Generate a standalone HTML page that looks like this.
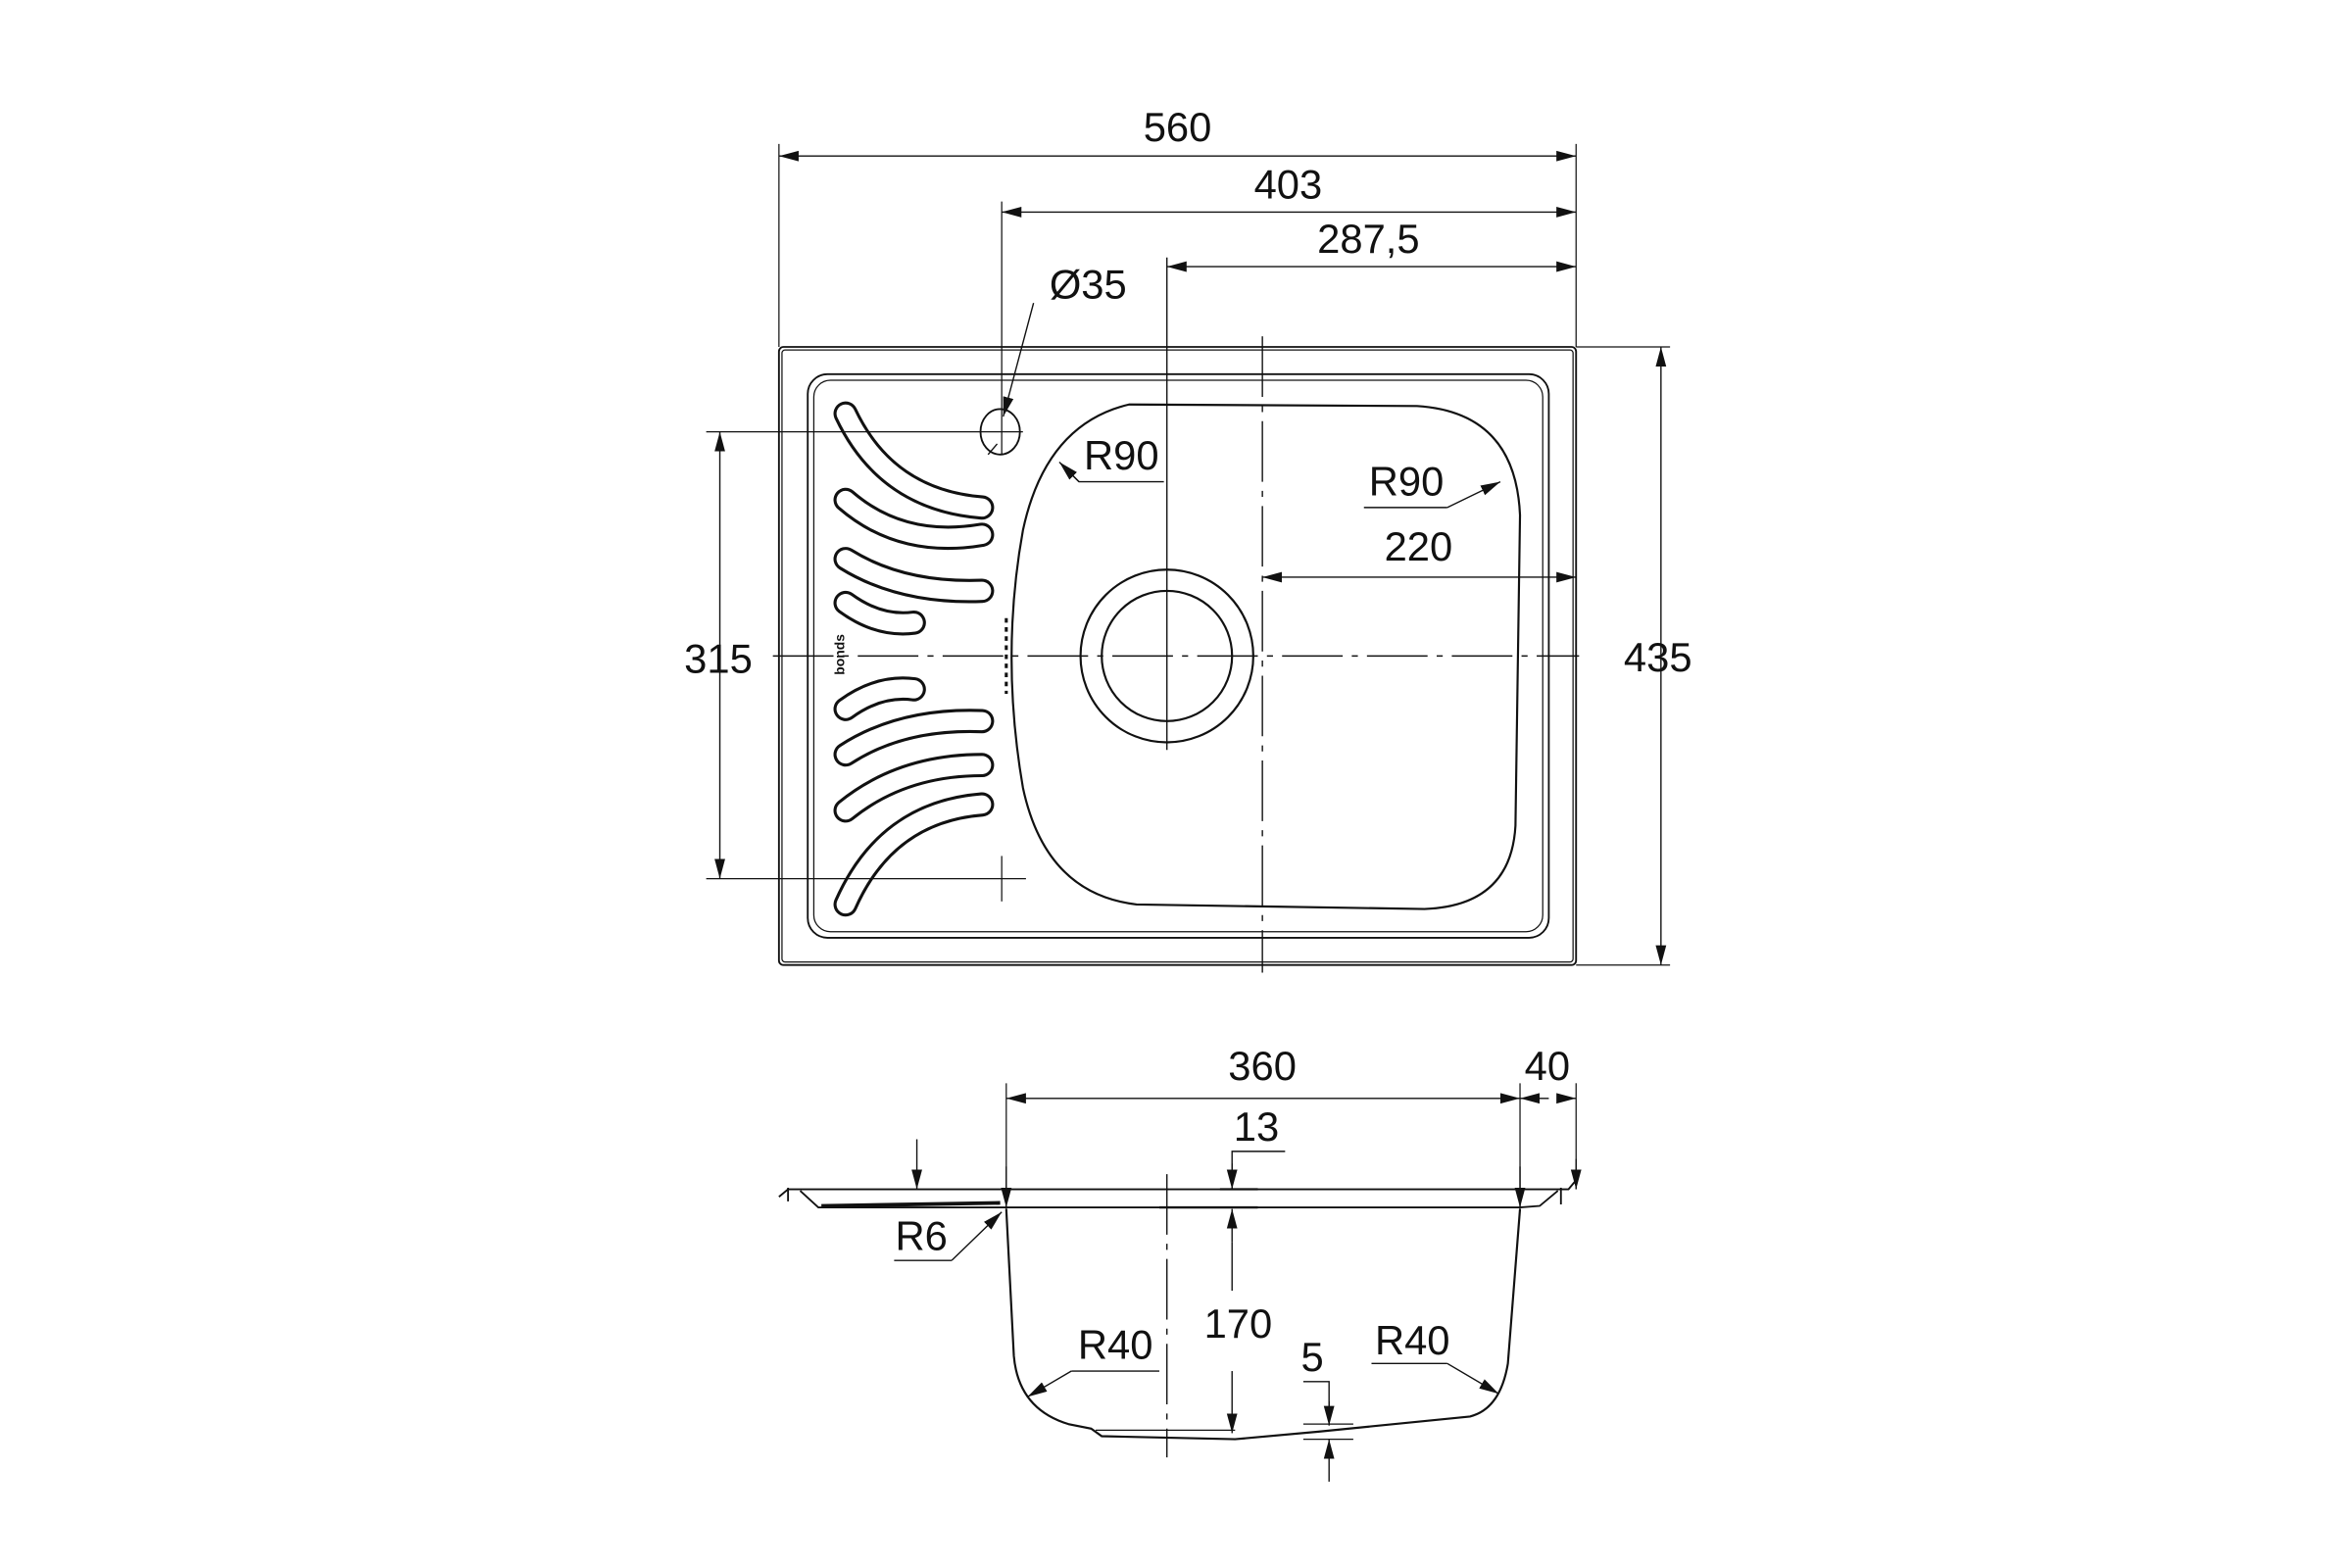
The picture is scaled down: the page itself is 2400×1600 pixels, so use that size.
<!DOCTYPE html>
<html><head><meta charset="utf-8"><style>
html,body{margin:0;padding:0;background:#fff;}
svg{display:block;}
text{font-family:"Liberation Sans",sans-serif;font-size:27px;fill:#111;text-anchor:middle;}
</style></head><body>
<svg width="2400" height="1600" viewBox="0 0 1552 1035" preserveAspectRatio="none" xmlns="http://www.w3.org/2000/svg">
<defs>
<marker id="a" markerUnits="userSpaceOnUse" markerWidth="14" markerHeight="8" refX="13" refY="4" orient="auto-start-reverse"><path d="M0,0.5 L13,4 L0,7.5 Z" fill="#111"/></marker>
</defs>
<g fill="none" stroke="#111" stroke-width="1.2">
<!-- top view -->
<rect x="514" y="229" width="526" height="408" rx="3"/>
<rect x="516" y="231" width="522" height="404" rx="2" stroke-width="0.8"/>
<rect x="533" y="247" width="489" height="372" rx="13"/>
<rect x="537" y="251" width="481" height="364" rx="11" stroke-width="0.8"/>
<path d="M745,267 L935,268 Q1000,272 1003,340 L1000,545 Q997,598 940,600 L750,597 Q690,590 675,520 Q660,433 675,350 Q690,280 745,267 Z" stroke-width="1.4"/>
<circle cx="770" cy="433" r="57" stroke-width="1.4"/>
<circle cx="770" cy="433" r="43" stroke-width="1.4"/>
<ellipse cx="660" cy="285" rx="13" ry="15"/>
<!-- slots -->
<g stroke-linecap="round">
<g stroke="#111" stroke-width="16">
<path d="M558,273 Q585,330 648,335"/><path d="M558,330 Q595,362 648,353"/><path d="M558,369 Q595,392 648,390"/><path d="M558,398 Q580,414 603,411"/>
<path d="M558,468 Q580,452 603,455"/><path d="M558,498 Q595,474 648,476"/><path d="M558,535 Q595,505 648,505"/><path d="M558,597 Q585,536 648,531"/>
</g>
<g stroke="#fff" stroke-width="12">
<path d="M558,273 Q585,330 648,335"/><path d="M558,330 Q595,362 648,353"/><path d="M558,369 Q595,392 648,390"/><path d="M558,398 Q580,414 603,411"/>
<path d="M558,468 Q580,452 603,455"/><path d="M558,498 Q595,474 648,476"/><path d="M558,535 Q595,505 648,505"/><path d="M558,597 Q585,536 648,531"/>
</g>
</g>
<!-- center lines -->
<line x1="510" y1="433" x2="1042" y2="433" stroke-width="0.9" stroke-dasharray="40,6,4,6"/>
<line x1="770" y1="170" x2="770" y2="495" stroke-width="0.9"/>
<line x1="833" y1="222" x2="833" y2="642" stroke-width="0.9" stroke-dasharray="40,6,4,6"/>
<line x1="664" y1="408" x2="664" y2="458" stroke-width="2" stroke-dasharray="3,3"/>
<!-- extension lines -->
<line x1="514" y1="95" x2="514" y2="229" stroke-width="0.8"/>
<line x1="1040" y1="95" x2="1040" y2="229" stroke-width="0.8"/>
<line x1="661" y1="133" x2="661" y2="300" stroke-width="0.8"/>
<line x1="1040" y1="229" x2="1102" y2="229" stroke-width="0.8"/>
<line x1="1040" y1="637" x2="1102" y2="637" stroke-width="0.8"/>
<line x1="466" y1="285" x2="675" y2="285" stroke-width="0.8"/>
<line x1="466" y1="580" x2="677" y2="580" stroke-width="0.8"/>
<line x1="661" y1="565" x2="661" y2="595" stroke-width="0.8"/>
<line x1="1040" y1="372" x2="1040" y2="438" stroke-width="0.8"/>
<!-- dimension lines -->
<line x1="514" y1="103" x2="1040" y2="103" marker-start="url(#a)" marker-end="url(#a)" stroke-width="0.9"/>
<line x1="661" y1="140" x2="1040" y2="140" marker-start="url(#a)" marker-end="url(#a)" stroke-width="0.9"/>
<line x1="770" y1="176" x2="1040" y2="176" marker-start="url(#a)" marker-end="url(#a)" stroke-width="0.9"/>
<line x1="833" y1="381" x2="1040" y2="381" marker-start="url(#a)" marker-end="url(#a)" stroke-width="0.9"/>
<line x1="1096" y1="229" x2="1096" y2="637" marker-start="url(#a)" marker-end="url(#a)" stroke-width="0.9"/>
<line x1="475" y1="285" x2="475" y2="580" marker-start="url(#a)" marker-end="url(#a)" stroke-width="0.9"/>
<line x1="682" y1="200" x2="662" y2="275" marker-end="url(#a)" stroke-width="0.9"/>
<line x1="652" y1="300" x2="658" y2="293" stroke-width="0.9"/>
<polyline points="768,318 712,318 700,306" stroke-width="0.9"/>
<line x1="712" y1="318" x2="699" y2="305" marker-end="url(#a)" stroke-width="0.9"/>
<polyline points="900,335 955,335" stroke-width="0.9"/>
<line x1="955" y1="335" x2="990" y2="318" marker-end="url(#a)" stroke-width="0.9"/>
<!-- side view -->
<path d="M514,790 L520,785 L1035,785 L1040,779"/>
<path d="M528,786 L540,797 L664,797 L1003,797 L1016,796 L1028,786"/>
<path d="M542,796 L660,794" stroke-width="2.5"/>
<line x1="520" y1="784" x2="520" y2="793"/>
<line x1="1030" y1="784" x2="1030" y2="795"/>
<path d="M664,798 L669,895 Q672,930 705,940 L720,943 L727,948 L815,950 L870,945 L970,935 Q990,930 995,900 L1003,798" stroke-width="1.4"/>
<line x1="723" y1="944" x2="815" y2="944" stroke-width="0.8"/>
<line x1="770" y1="775" x2="770" y2="962" stroke-width="0.9" stroke-dasharray="40,6,4,6"/>
<line x1="664" y1="715" x2="664" y2="798" stroke-width="0.8"/>
<line x1="1003" y1="715" x2="1003" y2="798" stroke-width="0.8"/>
<line x1="1040" y1="715" x2="1040" y2="785" stroke-width="0.8"/>
<line x1="664" y1="725" x2="1003" y2="725" marker-start="url(#a)" marker-end="url(#a)" stroke-width="0.9"/>
<line x1="1003" y1="725" x2="1022" y2="725" marker-start="url(#a)" stroke-width="0.9"/>
<line x1="1028" y1="725" x2="1040" y2="725" marker-end="url(#a)" stroke-width="0.9"/>
<line x1="664" y1="770" x2="664" y2="797" marker-end="url(#a)" stroke-width="0.9"/>
<line x1="1003" y1="770" x2="1003" y2="797" marker-end="url(#a)" stroke-width="0.9"/>
<line x1="1040" y1="765" x2="1040" y2="785" marker-end="url(#a)" stroke-width="0.9"/>
<line x1="605" y1="752" x2="605" y2="785" marker-end="url(#a)" stroke-width="0.9"/>
<polyline points="813,785 813,760 848,760" stroke-width="0.9"/>
<line x1="813" y1="768" x2="813" y2="785" marker-end="url(#a)" stroke-width="0.9"/>
<line x1="813" y1="820" x2="813" y2="798" marker-end="url(#a)" stroke-width="0.9"/>
<line x1="805" y1="785" x2="830" y2="785" stroke-width="1.5"/>
<line x1="765" y1="797" x2="830" y2="797" stroke-width="1.5"/>
<line x1="813" y1="820" x2="813" y2="852" stroke-width="0.9"/>
<line x1="813" y1="905" x2="813" y2="946" marker-end="url(#a)" stroke-width="0.9"/>
<polyline points="860,912 877,912 877,940" stroke-width="0.9"/>
<line x1="877" y1="925" x2="877" y2="941" marker-end="url(#a)" stroke-width="0.9"/>
<line x1="877" y1="978" x2="877" y2="950" marker-end="url(#a)" stroke-width="0.9"/>
<line x1="860" y1="940" x2="893" y2="940" stroke-width="0.8"/>
<line x1="860" y1="950" x2="893" y2="950" stroke-width="0.8"/>
<polyline points="590,832 628,832" stroke-width="0.9"/>
<line x1="628" y1="832" x2="661" y2="800" marker-end="url(#a)" stroke-width="0.9"/>
<polyline points="765,905 707,905" stroke-width="0.9"/>
<line x1="707" y1="905" x2="678" y2="922" marker-end="url(#a)" stroke-width="0.9"/>
<polyline points="905,900 955,900" stroke-width="0.9"/>
<line x1="955" y1="900" x2="989" y2="920" marker-end="url(#a)" stroke-width="0.9"/>
</g>
<g>
<text x="777" y="93">560</text>
<text x="850" y="131">403</text>
<text x="903" y="167">287,5</text>
<text x="718" y="197">Ø35</text>
<text x="740" y="310">R90</text>
<text x="928" y="327">R90</text>
<text x="936" y="370">220</text>
<text x="1094" y="443">435</text>
<text x="474" y="444">315</text>
<text x="833" y="713">360</text>
<text x="1021" y="713">40</text>
<text x="829" y="753">13</text>
<text x="608" y="825">R6</text>
<text x="736" y="897">R40</text>
<text x="817" y="883">170</text>
<text x="866" y="905">5</text>
<text x="932" y="894">R40</text>
<text x="557" y="432" transform="rotate(-90 557 432)" style="font-size:9px;font-weight:bold">bonds</text>
</g>
</svg>
</body></html>
